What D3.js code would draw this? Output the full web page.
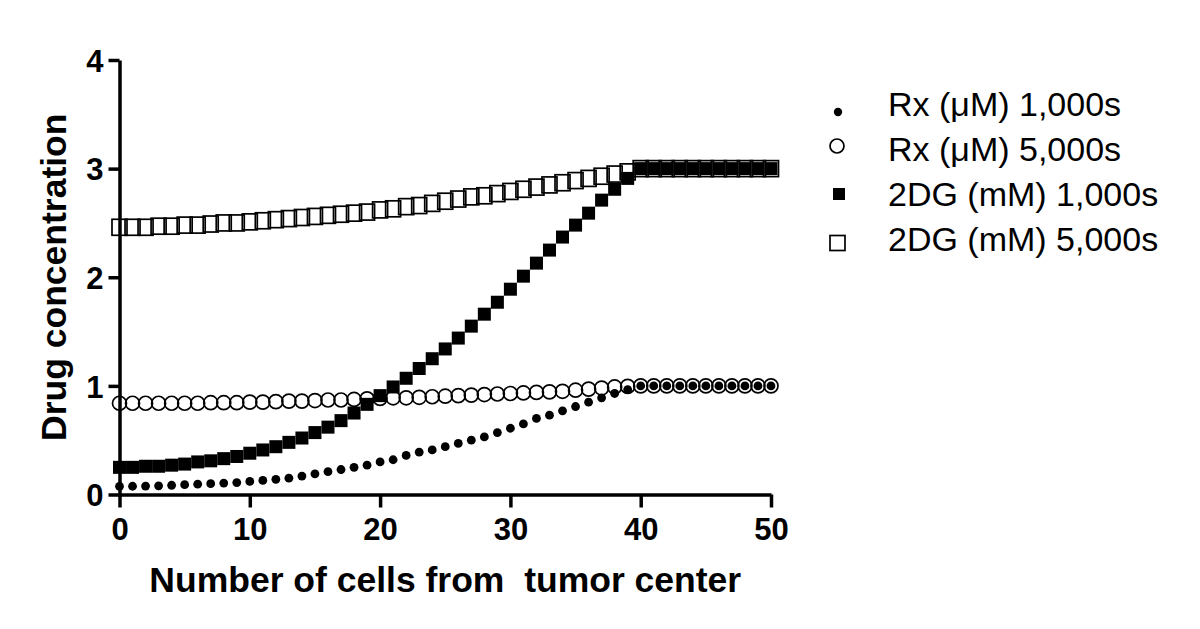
<!DOCTYPE html>
<html>
<head>
<meta charset="utf-8">
<script src="https://cdn.jsdelivr.net/npm/d3@7"></script>
<style>
  body { margin: 0; background: #fff; }
  svg { display: block; font-family: "Liberation Sans", Arial, sans-serif; }
</style>
</head>
<body>
<div id="chart"></div>
<script>
// cells from tumor center
const cells = [0, 1, 2, 3, 4, 5, 6, 7, 8, 9, 10, 11, 12, 13, 14, 15, 16, 17, 18, 19, 20,
  21, 22, 23, 24, 25, 26, 27, 28, 29, 30, 31, 32, 33, 34, 35, 36, 37, 38, 39, 40,
  41, 42, 43, 44, 45, 46, 47, 48, 49, 50];

const rx1000 = [0.075, 0.076, 0.078, 0.08, 0.085, 0.09, 0.095, 0.10, 0.105, 0.11,
  0.12, 0.13, 0.14, 0.15, 0.17, 0.19, 0.21, 0.23, 0.25, 0.27,
  0.30, 0.32, 0.36, 0.39, 0.41, 0.44, 0.47, 0.50, 0.53, 0.57,
  0.61, 0.65, 0.70, 0.73, 0.77, 0.81, 0.85, 0.89, 0.93, 0.965,
  1.0, 1.0, 1.0, 1.0, 1.0, 1.0, 1.0, 1.0, 1.0, 1.0, 1.0];

const rx5000 = [0.84, 0.84, 0.84, 0.84, 0.84, 0.84, 0.84, 0.845, 0.845, 0.845,
  0.85, 0.85, 0.855, 0.86, 0.86, 0.865, 0.87, 0.87, 0.875, 0.88,
  0.885, 0.89, 0.89, 0.895, 0.90, 0.905, 0.91, 0.915, 0.92, 0.925,
  0.93, 0.935, 0.94, 0.945, 0.95, 0.96, 0.97, 0.98, 0.99, 0.995,
  1.0, 1.0, 1.0, 1.0, 1.0, 1.0, 1.0, 1.0, 1.0, 1.0, 1.0];

const dg1000 = [0.25, 0.25, 0.26, 0.26, 0.27, 0.28, 0.30, 0.31, 0.33, 0.35,
  0.38, 0.41, 0.44, 0.48, 0.52, 0.57, 0.62, 0.68, 0.75, 0.83,
  0.91, 0.99, 1.07, 1.16, 1.25, 1.34, 1.44, 1.55, 1.66, 1.77,
  1.89, 2.01, 2.13, 2.25, 2.37, 2.48, 2.59, 2.71, 2.81, 2.91,
  3.0, 3.0, 3.0, 3.0, 3.0, 3.0, 3.0, 3.0, 3.0, 3.0, 3.0];

const dg5000 = [2.46, 2.46, 2.46, 2.47, 2.47, 2.48, 2.48, 2.49, 2.50, 2.50,
  2.51, 2.52, 2.53, 2.54, 2.55, 2.56, 2.57, 2.58, 2.59, 2.60,
  2.62, 2.63, 2.65, 2.66, 2.68, 2.70, 2.72, 2.74, 2.75, 2.77,
  2.79, 2.81, 2.83, 2.85, 2.87, 2.89, 2.91, 2.93, 2.95, 2.97,
  3.0, 3.0, 3.0, 3.0, 3.0, 3.0, 3.0, 3.0, 3.0, 3.0, 3.0];

const seriesNames = ['Rx (\u03bcM) 1,000s', 'Rx (\u03bcM) 5,000s', '2DG (mM) 1,000s', '2DG (mM) 5,000s'];
const xTicks = [0, 10, 20, 30, 40, 50];
const yTicks = [0, 1, 2, 3, 4];
const xTitle = 'Number of cells from  tumor center';
const yTitle = 'Drug concentration';

const WIDTH = 1200;
const HEIGHT = 629;
const PLOT = { left: 119.5, right: 771, top: 60, bottom: 494.5 };

const svg = d3.select('#chart')
  .append('svg')
  .attr('width', WIDTH)
  .attr('height', HEIGHT);

const x = d3.scaleLinear().domain([0, 50]).range([PLOT.left, PLOT.right]);
const y = d3.scaleLinear().domain([0, 4]).range([PLOT.bottom, PLOT.top]);

// axes
const xAxis = svg.append('g')
  .attr('transform', `translate(0, ${PLOT.bottom})`)
  .call(d3.axisBottom(x).tickValues(xTicks).tickFormat(d3.format('d'))
    .tickSize(13).tickSizeOuter(0).tickPadding(10));
const yAxis = svg.append('g')
  .attr('transform', `translate(${PLOT.left}, 0)`)
  .call(d3.axisLeft(y).tickValues(yTicks).tickFormat(d3.format('d'))
    .tickSize(11).tickSizeOuter(0).tickPadding(5));

[xAxis, yAxis].forEach(g => {
  g.select('.domain').attr('stroke', '#000').attr('stroke-width', 3.5);
  g.selectAll('.tick line').attr('stroke', '#000').attr('stroke-width', 3.5);
  g.selectAll('.tick text')
    .attr('fill', '#000')
    .style('font-size', '31px')
    .style('font-weight', 'bold')
    .style('font-family', '"Liberation Sans", Arial, sans-serif');
});
yAxis.selectAll('.tick text').attr('dy', '0.36em');

// axis titles
svg.append('text')
  .attr('x', (PLOT.left + PLOT.right) / 2)
  .attr('y', 592)
  .attr('text-anchor', 'middle')
  .style('font-size', '35.5px')
  .style('font-weight', 'bold')
  .style('white-space', 'pre')
  .text(xTitle);

svg.append('text')
  .attr('transform', `translate(66, ${(PLOT.top + PLOT.bottom) / 2}) rotate(-90)`)
  .attr('text-anchor', 'middle')
  .style('font-size', '35.5px')
  .style('font-weight', 'bold')
  .text(yTitle);

// marks
const plot = svg.append('g');

plot.append('g').selectAll('circle')
  .data(rx1000)
  .enter().append('circle')
  .attr('cx', (d, i) => x(cells[i]))
  .attr('cy', d => y(d))
  .attr('r', 4.4)
  .attr('fill', '#000');

plot.append('g').selectAll('circle')
  .data(rx5000)
  .enter().append('circle')
  .attr('cx', (d, i) => x(cells[i]))
  .attr('cy', d => y(d))
  .attr('r', 7)
  .attr('fill', 'none')
  .attr('stroke', '#000')
  .attr('stroke-width', 1.7);

plot.append('g').selectAll('rect')
  .data(dg1000)
  .enter().append('rect')
  .attr('x', (d, i) => x(cells[i]) - 6.5)
  .attr('y', d => y(d) - 6.5)
  .attr('width', 13)
  .attr('height', 13)
  .attr('fill', '#000');

plot.append('g').selectAll('rect')
  .data(dg5000)
  .enter().append('rect')
  .attr('x', (d, i) => x(cells[i]) - 7.5)
  .attr('y', d => y(d) - 8)
  .attr('width', 15)
  .attr('height', 16)
  .attr('fill', 'none')
  .attr('stroke', '#000')
  .attr('stroke-width', 1.7);

// legend
const legendTextY = [116, 161, 206, 251];
const legendMarkY = [112, 146, 194, 243];
const legend = svg.append('g');

legend.append('circle').attr('cx', 838).attr('cy', legendMarkY[0]).attr('r', 4.2).attr('fill', '#000');
legend.append('circle').attr('cx', 837).attr('cy', legendMarkY[1]).attr('r', 7)
  .attr('fill', 'none').attr('stroke', '#000').attr('stroke-width', 1.7);
legend.append('rect').attr('x', 833).attr('y', legendMarkY[2] - 6).attr('width', 12).attr('height', 12).attr('fill', '#000');
legend.append('rect').attr('x', 830).attr('y', legendMarkY[3] - 7.5).attr('width', 15).attr('height', 15)
  .attr('fill', 'none').attr('stroke', '#000').attr('stroke-width', 1.7);

legend.selectAll('text')
  .data(seriesNames)
  .enter().append('text')
  .attr('x', 888)
  .attr('y', (d, i) => legendTextY[i])
  .style('font-size', '34px')
  .attr('fill', '#000')
  .text(d => d);
</script>
</body>
</html>
